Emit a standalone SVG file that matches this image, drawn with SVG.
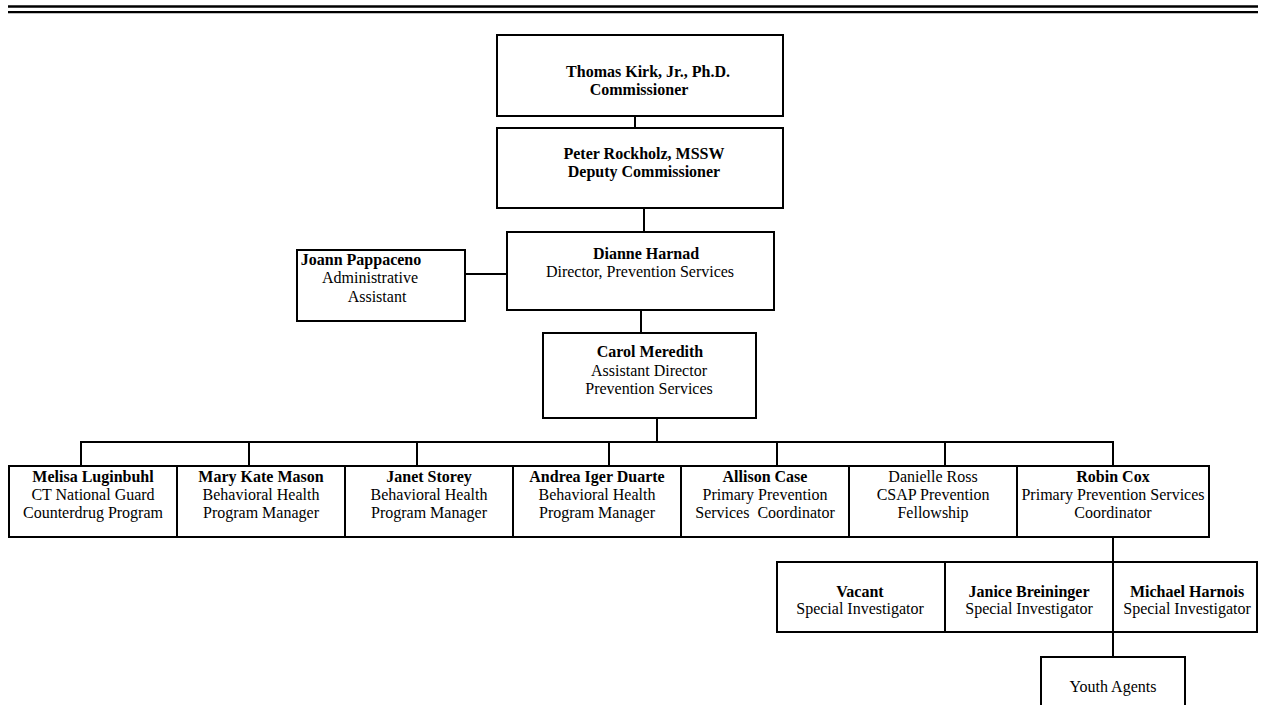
<svg xmlns="http://www.w3.org/2000/svg" width="1262" height="705" viewBox="0 0 1262 705">
<style>
.box{fill:#fff;stroke:#000;stroke-width:2}
.con{stroke:#000;stroke-width:2;fill:none}
text{font-family:"Liberation Serif","Times New Roman",serif;font-size:16px;fill:#000;text-anchor:middle}
.b{font-weight:bold}
</style>
<rect width="1262" height="705" fill="#fff"/>
<g id="header">
<line x1="8" y1="6.5" x2="1258" y2="6.5" stroke="#000" stroke-width="2.5"/>
<line x1="8" y1="12.2" x2="1258" y2="12.2" stroke="#000" stroke-width="2.2"/>
</g>
<g id="connectors" class="con">
<line x1="635" y1="116" x2="635" y2="128"/>
<line x1="644" y1="208" x2="644" y2="232"/>
<line x1="465" y1="274" x2="507" y2="274"/>
<line x1="641" y1="310" x2="641" y2="333"/>
<line x1="657" y1="418" x2="657" y2="442"/>
<line x1="80" y1="442" x2="1114" y2="442"/>
<line x1="81" y1="442" x2="81" y2="466"/>
<line x1="249" y1="442" x2="249" y2="466"/>
<line x1="417" y1="442" x2="417" y2="466"/>
<line x1="609" y1="442" x2="609" y2="466"/>
<line x1="777" y1="442" x2="777" y2="466"/>
<line x1="945" y1="442" x2="945" y2="466"/>
<line x1="1113" y1="442" x2="1113" y2="466"/>
<line x1="1113" y1="537" x2="1113" y2="562"/>
<line x1="1113" y1="632" x2="1113" y2="657"/>
</g>
<g id="thomas">
<rect class="box" x="497" y="35" width="286" height="81"/>
<text class="b" x="648" y="77">Thomas Kirk, Jr., Ph.D.</text>
<text class="b" x="639" y="95">Commissioner</text>
</g>
<g id="peter">
<rect class="box" x="497" y="128" width="286" height="80"/>
<text class="b" x="644" y="159">Peter Rockholz, MSSW</text>
<text class="b" x="644" y="177">Deputy Commissioner</text>
</g>
<g id="dianne">
<rect class="box" x="507" y="232" width="267" height="78"/>
<text class="b" x="646" y="259">Dianne Harnad</text>
<text x="640" y="277">Director, Prevention Services</text>
</g>
<g id="joann">
<rect class="box" x="297" y="250" width="168" height="71"/>
<text class="b" x="361" y="265">Joann Pappaceno</text>
<text x="370" y="283">Administrative</text>
<text x="377" y="302">Assistant</text>
</g>
<g id="carol">
<rect class="box" x="543" y="333" width="213" height="85"/>
<text class="b" x="650" y="357">Carol Meredith</text>
<text x="649" y="376">Assistant Director</text>
<text x="649" y="394">Prevention Services</text>
</g>
<g id="melisa">
<rect class="box" x="9" y="466" width="168" height="71"/>
<text class="b" x="93" y="482">Melisa Luginbuhl</text>
<text x="93" y="500">CT National Guard</text>
<text x="93" y="518">Counterdrug Program</text>
</g>
<g id="marykate">
<rect class="box" x="177" y="466" width="168" height="71"/>
<text class="b" x="261" y="482">Mary Kate Mason</text>
<text x="261" y="500">Behavioral Health</text>
<text x="261" y="518">Program Manager</text>
</g>
<g id="janet">
<rect class="box" x="345" y="466" width="168" height="71"/>
<text class="b" x="429" y="482">Janet Storey</text>
<text x="429" y="500">Behavioral Health</text>
<text x="429" y="518">Program Manager</text>
</g>
<g id="andrea">
<rect class="box" x="513" y="466" width="168" height="71"/>
<text class="b" x="597" y="482">Andrea Iger Duarte</text>
<text x="597" y="500">Behavioral Health</text>
<text x="597" y="518">Program Manager</text>
</g>
<g id="allison">
<rect class="box" x="681" y="466" width="168" height="71"/>
<text class="b" x="765" y="482">Allison Case</text>
<text x="765" y="500">Primary Prevention</text>
<text x="765" y="518" xml:space="preserve">Services  Coordinator</text>
</g>
<g id="danielle">
<rect class="box" x="849" y="466" width="168" height="71"/>
<text x="933" y="482">Danielle Ross</text>
<text x="933" y="500">CSAP Prevention</text>
<text x="933" y="518">Fellowship</text>
</g>
<g id="robin">
<rect class="box" x="1017" y="466" width="192" height="71"/>
<text class="b" x="1113" y="482">Robin Cox</text>
<text x="1113" y="500">Primary Prevention Services</text>
<text x="1113" y="518">Coordinator</text>
</g>
<g id="vacant">
<rect class="box" x="777" y="562" width="168" height="70"/>
<text class="b" x="860" y="597">Vacant</text>
<text x="860" y="614">Special Investigator</text>
</g>
<g id="janice">
<rect class="box" x="945" y="562" width="168" height="70"/>
<text class="b" x="1029" y="597">Janice Breininger</text>
<text x="1029" y="614">Special Investigator</text>
</g>
<g id="michael">
<rect class="box" x="1113" y="562" width="144" height="70"/>
<text class="b" x="1187" y="597">Michael Harnois</text>
<text x="1187" y="614">Special Investigator</text>
</g>
<g id="youth">
<rect class="box" x="1041" y="657" width="144" height="70"/>
<text x="1113" y="692">Youth Agents</text>
</g>
</svg>
